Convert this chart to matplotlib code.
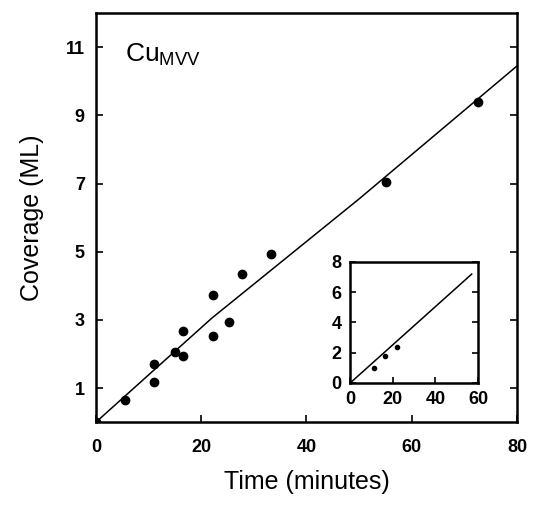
import matplotlib
matplotlib.use("Agg")
import matplotlib.pyplot as plt

plt.rcParams['font.family'] = ['Liberation Sans', 'DejaVu Sans']

# main data: time (minutes) vs coverage (ML)
time_pts = [0, 5.5, 11.0, 11.0, 15.0, 16.6, 16.5, 22.2, 22.2, 25.3, 27.8, 33.3, 55.1, 72.5]
cov_pts = [0, 0.66, 1.17, 1.70, 2.05, 1.95, 2.67, 2.54, 3.72, 2.95, 4.34, 4.92, 7.05, 9.40]

# fitted line
fit_t = [0, 22, 50, 80]
fit_c = [0, 3.05, 6.55, 10.45]

# inset data
ins_t = [11.2, 16.4, 21.9]
ins_c = [1.0, 1.8, 2.4]
ins_fit_t = [0, 57]
ins_fit_c = [0, 7.2]

fig = plt.figure(figsize=(5.33, 5.05), dpi=100)
ax = fig.add_axes([0.180, 0.164, 0.790, 0.810])

ax.plot(fit_t, fit_c, color='black', lw=1.1)
ax.plot(time_pts, cov_pts, 'o', color='black', ms=6)

ax.set_xlim(0, 80)
ax.set_ylim(0, 12)
ax.set_xticks([0, 20, 40, 60, 80])
ax.set_yticks([1, 3, 5, 7, 9, 11])
ax.tick_params(direction='in', right=True, length=5, width=1.2,
               labelsize=13, pad=8)
ax.tick_params(axis='x', pad=12)
for lab in ax.get_xticklabels() + ax.get_yticklabels():
    lab.set_fontweight('bold')
for s in ax.spines.values():
    s.set_linewidth(1.8)

ax.set_xlabel('Time (minutes)', fontsize=18, labelpad=10)
ax.set_ylabel('Coverage (ML)', fontsize=18, labelpad=16)
ax.text(0.07, 0.93, r'Cu$_{\mathregular{MVV}}$', transform=ax.transAxes,
        fontsize=19, va='top', ha='left')

# inset
ins = fig.add_axes([0.657, 0.2416, 0.240, 0.2396])
ins.plot(ins_fit_t, ins_fit_c, color='black', lw=1.1)
ins.plot(ins_t, ins_c, 'o', color='black', ms=3)
ins.set_xlim(0, 60)
ins.set_ylim(0, 8)
ins.set_xticks([0, 20, 40, 60])
ins.set_yticks([0, 2, 4, 6, 8])
ins.tick_params(direction='in', right=True, length=4, width=1.2,
                labelsize=13, pad=6)
for lab in ins.get_xticklabels() + ins.get_yticklabels():
    lab.set_fontweight('bold')
for s in ins.spines.values():
    s.set_linewidth(1.8)

fig.savefig('out.png', dpi=100)
